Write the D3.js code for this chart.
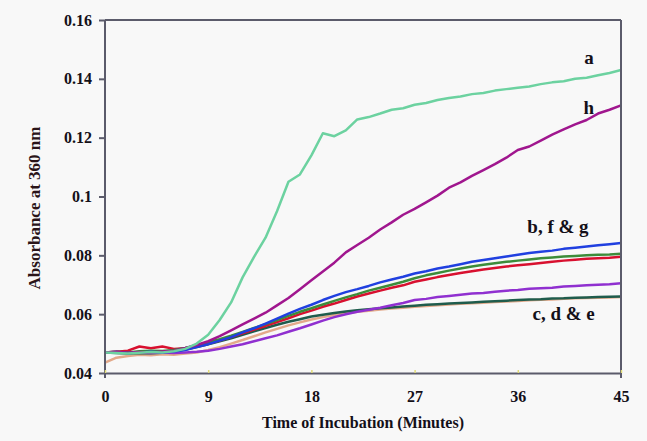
<!DOCTYPE html>
<html>
<head>
<meta charset="utf-8">
<script src="https://cdn.jsdelivr.net/npm/d3@7"></script>
<style>
  body { margin: 0; background: #f8f8f8; }
  text { font-family: "Liberation Serif", "Times New Roman", serif; font-weight: bold; }
</style>
</head>
<body>
<div id="viz"></div>
<script>
// time in minutes
const times = [0,1,2,3,4,5,6,7,8,9,10,11,12,13,14,15,16,17,18,19,20,21,22,23,24,25,26,27,28,29,30,31,32,33,34,35,36,37,38,39,40,41,42,43,44,45];

const seriesA = [0.0470,0.0468,0.0466,0.0469,0.0471,0.0470,0.0474,0.0482,0.0500,0.0530,0.0580,0.0640,0.0725,0.0795,0.0860,0.0950,0.1050,0.1075,0.1140,0.1215,0.1205,0.1225,0.1262,0.1270,0.1282,0.1295,0.1300,0.1312,0.1318,0.1328,0.1335,0.1340,0.1348,0.1352,0.1360,0.1365,0.1370,0.1374,0.1382,0.1388,0.1392,0.1400,0.1404,0.1412,0.1420,0.1430];
const seriesB = [0.0470,0.0471,0.0468,0.0470,0.0472,0.0470,0.0473,0.0478,0.0488,0.0498,0.0510,0.0522,0.0538,0.0552,0.0568,0.0585,0.0602,0.0618,0.0632,0.0648,0.0662,0.0675,0.0685,0.0696,0.0708,0.0718,0.0727,0.0738,0.0746,0.0755,0.0762,0.0770,0.0778,0.0784,0.0790,0.0796,0.0802,0.0808,0.0812,0.0816,0.0822,0.0826,0.0830,0.0834,0.0838,0.0842];
const seriesC = [0.0470,0.0471,0.0469,0.0470,0.0468,0.0470,0.0468,0.0470,0.0472,0.0476,0.0482,0.0490,0.0498,0.0508,0.0518,0.0528,0.0540,0.0552,0.0565,0.0578,0.0590,0.0600,0.0608,0.0615,0.0622,0.0630,0.0638,0.0648,0.0652,0.0658,0.0662,0.0666,0.0670,0.0672,0.0676,0.0680,0.0682,0.0686,0.0688,0.0690,0.0694,0.0696,0.0698,0.0700,0.0702,0.0705];
const seriesD = [0.0470,0.0468,0.0466,0.0468,0.0467,0.0469,0.0472,0.0480,0.0488,0.0498,0.0508,0.0518,0.0530,0.0542,0.0553,0.0564,0.0574,0.0583,0.0592,0.0598,0.0604,0.0609,0.0613,0.0617,0.0620,0.0623,0.0626,0.0629,0.0632,0.0634,0.0636,0.0638,0.0640,0.0642,0.0644,0.0646,0.0648,0.0650,0.0651,0.0653,0.0654,0.0656,0.0657,0.0658,0.0659,0.0660];
const seriesE = [0.0435,0.0452,0.0458,0.0462,0.0460,0.0464,0.0462,0.0466,0.0470,0.0478,0.0488,0.0500,0.0512,0.0525,0.0538,0.0550,0.0562,0.0572,0.0582,0.0590,0.0597,0.0603,0.0608,0.0612,0.0616,0.0619,0.0622,0.0625,0.0628,0.0630,0.0633,0.0635,0.0637,0.0639,0.0641,0.0643,0.0645,0.0647,0.0649,0.0650,0.0652,0.0654,0.0655,0.0656,0.0657,0.0658];
const seriesF = [0.0470,0.0472,0.0470,0.0474,0.0476,0.0475,0.0478,0.0485,0.0494,0.0505,0.0515,0.0527,0.0540,0.0553,0.0566,0.0580,0.0594,0.0608,0.0620,0.0633,0.0645,0.0657,0.0668,0.0680,0.0690,0.0700,0.0710,0.0722,0.0732,0.0740,0.0748,0.0755,0.0762,0.0768,0.0773,0.0778,0.0782,0.0786,0.0790,0.0793,0.0796,0.0798,0.0800,0.0802,0.0803,0.0805];
const seriesG = [0.0470,0.0472,0.0476,0.0490,0.0484,0.0490,0.0482,0.0484,0.0490,0.0500,0.0510,0.0522,0.0535,0.0548,0.0560,0.0573,0.0586,0.0600,0.0612,0.0625,0.0636,0.0648,0.0660,0.0670,0.0680,0.0690,0.0698,0.0710,0.0718,0.0726,0.0733,0.0740,0.0746,0.0752,0.0757,0.0762,0.0766,0.0770,0.0774,0.0778,0.0782,0.0785,0.0788,0.0790,0.0792,0.0795];
const seriesH = [0.0470,0.0472,0.0469,0.0471,0.0470,0.0473,0.0476,0.0485,0.0495,0.0508,0.0525,0.0545,0.0565,0.0585,0.0605,0.0630,0.0655,0.0685,0.0715,0.0745,0.0775,0.0810,0.0835,0.0860,0.0888,0.0912,0.0938,0.0958,0.0980,0.1003,0.1030,0.1048,0.1070,0.1090,0.1110,0.1132,0.1158,0.1170,0.1190,0.1210,0.1228,0.1245,0.1260,0.1282,0.1295,0.1310];

const xTicks = [0, 9, 18, 27, 36, 45];
const yTicks = [0.04, 0.06, 0.08, 0.1, 0.12, 0.14, 0.16];
const yTickLabels = ["0.04", "0.06", "0.08", "0.1", "0.12", "0.14", "0.16"];

// drawing order: back to front
const series = [
  { name: "e", values: seriesE, color: "#e3a98a" },
  { name: "d", values: seriesD, color: "#1f5c4c" },
  { name: "c", values: seriesC, color: "#9030d0" },
  { name: "g", values: seriesG, color: "#d8102f" },
  { name: "f", values: seriesF, color: "#3c8c3a" },
  { name: "b", values: seriesB, color: "#2040e0" },
  { name: "h", values: seriesH, color: "#a0168e" },
  { name: "a", values: seriesA, color: "#6cd2a0" }
];

const groupLabels = [
  { text: "a", t: 42.2, v: 0.1450 },
  { text: "h", t: 42.2, v: 0.1280 },
  { text: "b, f & g", t: 39.5, v: 0.0876 },
  { text: "c, d & e", t: 40.0, v: 0.0580 }
];

const margin = { top: 20, right: 26, bottom: 68, left: 105 };
const width = 647 - margin.left - margin.right;
const height = 441 - margin.top - margin.bottom;

const svgRoot = d3.select("#viz").append("svg")
  .attr("width", 647)
  .attr("height", 441);

svgRoot.append("rect")
  .attr("width", 647)
  .attr("height", 441)
  .attr("fill", "#f8f8f8");

const svg = svgRoot.append("g")
  .attr("transform", `translate(${margin.left},${margin.top})`);

const x = d3.scaleLinear().domain([0, 45]).range([0, width]);
const y = d3.scaleLinear().domain([0.04, 0.16]).range([height, 0]);

const line = d3.line()
  .x((d, i) => x(times[i]))
  .y(d => y(d));

series.forEach(s => {
  svg.append("path")
    .datum(s.values)
    .attr("fill", "none")
    .attr("stroke", s.color)
    .attr("stroke-width", 2.5)
    .attr("stroke-linejoin", "round")
    .attr("d", line);
});

// frame: top and right borders
svg.append("line")
  .attr("x1", 0).attr("x2", width).attr("y1", 0).attr("y2", 0)
  .attr("stroke", "#5b5b6b").attr("stroke-width", 2);
svg.append("line")
  .attr("x1", width).attr("x2", width).attr("y1", 0).attr("y2", height + 5)
  .attr("stroke", "#5b5b6b").attr("stroke-width", 2);

// y axis
const yAxis = svg.append("g")
  .call(d3.axisLeft(y).tickValues(yTicks).tickFormat((d, i) => yTickLabels[i]).tickSize(6).tickSizeOuter(0));
yAxis.select(".domain").attr("stroke", "#5b5b6b").attr("stroke-width", 2)
  .attr("d", `M0,${height + 5}V0`);
yAxis.selectAll(".tick line").attr("stroke", "#5b5b6b").attr("stroke-width", 2);
yAxis.selectAll(".tick text")
  .attr("x", -13)
  .style("font-size", "16px")
  .style("font-family", "'Liberation Serif', serif")
  .style("font-weight", "bold")
  .attr("fill", "#141018");

// x axis
const xAxis = svg.append("g")
  .attr("transform", `translate(0,${height})`)
  .call(d3.axisBottom(x).tickValues(xTicks).tickSize(-3).tickSizeOuter(0));
xAxis.select(".domain").attr("stroke", "#5b5b6b").attr("stroke-width", 2);
xAxis.selectAll(".tick line").attr("stroke", "#e2dc7a").attr("stroke-width", 1.5);
xAxis.selectAll(".tick text")
  .attr("y", 18)
  .style("font-size", "16px")
  .style("font-family", "'Liberation Serif', serif")
  .style("font-weight", "bold")
  .attr("fill", "#141018");

// axis titles
svg.append("text")
  .attr("x", 363 - margin.left)
  .attr("y", height + 55)
  .attr("text-anchor", "middle")
  .style("font-size", "16px")
  .attr("fill", "#141018")
  .text("Time of Incubation (Minutes)");

svg.append("text")
  .attr("transform", `translate(${40 - margin.left},${208 - margin.top}) rotate(-90)`)
  .attr("text-anchor", "middle")
  .style("font-size", "17px")
  .attr("fill", "#2a1418")
  .text("Absorbance at 360 nm");

// series labels
svg.selectAll(".label")
  .data(groupLabels)
  .enter()
  .append("text")
  .attr("class", "label")
  .attr("x", d => x(d.t))
  .attr("y", d => y(d.v))
  .attr("text-anchor", "middle")
  .style("font-size", "19px")
  .attr("fill", "#141018")
  .text(d => d.text);
</script>
</body>
</html>
